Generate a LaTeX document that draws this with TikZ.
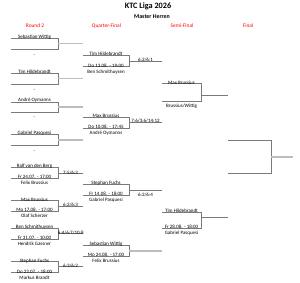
\documentclass[tikz,border=0pt]{standalone}
\usepackage{fontspec}
\setmainfont{Carlito}
\definecolor{hdr}{HTML}{FF0000}
\definecolor{lineg}{HTML}{7A7A7A}
\definecolor{lightg}{HTML}{BDBDBD}
\newcommand\bracketbox[4]{\draw[bl] (#1,#3) -- (#2,#3) -- (#2,#4) -- (#1,#4);}
\begin{document}
\begin{tikzpicture}[x=1pt,y=-1pt,
  txt/.style={inner sep=0pt, text height=0.66em, text depth=0pt, font=\fontsize{5}{6}\selectfont},
  hdrtxt/.style={txt, text=hdr, font=\fontsize{5.4}{6}\selectfont},
  bl/.style={draw=lineg, line width=0.8pt},
  ll/.style={draw=lightg, line width=1.3pt}]
\useasboundingbox (0,0) rectangle (300,283);
\fill[white] (0,0) rectangle (300,283);

% titles
\node[txt, font=\bfseries\fontsize{8.2}{9}\selectfont] (title) at (148,5) {KTC Liga 2026};
\node[txt, font=\bfseries\fontsize{5.9}{7}\selectfont] (sub) at (152,15.3) {Master Herren};
\node[hdrtxt] (h1) at (35,24) {Round 2};
\node[hdrtxt] (h2) at (106.5,24) {Quarter-Final};
\node[hdrtxt] (h3) at (182,24) {Semi-Final};
\node[hdrtxt] (h4) at (248,24) {Final};

% Round 2 boxes
\bracketbox{11}{58}{38.7}{49.3}
\bracketbox{11}{58}{73.3}{84}
\bracketbox{11}{58}{102}{112.3}
\bracketbox{11}{58}{134.7}{145.3}
\bracketbox{11}{58}{167.3}{178.5}
\bracketbox{11}{58}{200.7}{211.3}
\bracketbox{11}{58}{228}{239}
\bracketbox{11}{58}{261.7}{272.3}
\draw[ll] (58,43.7) -- (83,43.7);
\draw[ll] (58,78.7) -- (83,78.7);
\draw[ll] (58,107) -- (83,107);
\draw[ll] (58,140) -- (83,140);
\draw[bl] (58,173.5) -- (83,173.5);
\draw[bl] (58,206) -- (83,206);
\draw[bl] (58,233.3) -- (83,233.3);
\draw[bl] (58,266.7) -- (83,266.7);

\node[txt] (r1a) at (34.5,35) {Sebastian Wittig};
\node[txt] (r1b) at (34.5,53) {-};
\node[txt] (r2a) at (34.5,70.3) {Tim Hildebrandt};
\node[txt] (r2b) at (34.5,88) {-};
\node[txt] (r3a) at (34.5,98.7) {André Oymanns};
\node[txt] (r3b) at (34.5,115.7) {-};
\node[txt] (r4a) at (34.5,131.5) {Gabriel Pasquesi};
\node[txt] (r4b) at (34.5,149.7) {-};
\node[txt] (r5a) at (34.5,164.5) {Ralf van den Berg};
\node[txt] (r5d) at (34.5,175.5) {Fr 24.07. - 17:00};
\node[txt] (r5b) at (34.5,181.5) {Felix Brussius};
\node[txt] (r5s) at (70.5,171) {7:5/6:2};
\node[txt] (r6a) at (34.5,198) {Max Brussius};
\node[txt] (r6d) at (34.5,208.3) {Mo 17.08. - 17:00};
\node[txt] (r6b) at (34.5,214.7) {Olaf Scherzer};
\node[txt] (r6s) at (70.5,203.5) {6:2/6:3};
\node[txt] (r7a) at (34.5,225.3) {Ben Schmithuysen};
\node[txt] (r7d) at (34.5,236.5) {Fr 31.07. - 10:00};
\node[txt] (r7b) at (34.5,242.3) {Hendrik Gassner};
\node[txt] (r7s) at (70.8,231) {6:4/6:7/10:8};
\node[txt] (r8a) at (34.5,258.7) {Stephan Fuchs};
\node[txt] (r8d) at (34.5,269.8) {Do 23.07. - 18:00};
\node[txt] (r8b) at (34.5,276) {Markus Brandt};
\node[txt] (r8s) at (70.5,264.3) {6:3/6:2};

% Quarter-finals
\bracketbox{83}{129}{55}{66.7}
\bracketbox{83}{129}{117.3}{128.7}
\bracketbox{83}{129}{184.3}{195}
\bracketbox{83}{129}{245.5}{256}
\draw[bl] (129,61) -- (162,61);
\draw[bl] (129,122.3) -- (162,122.3);
\draw[bl] (129,190.3) -- (162,190.3);
\draw[ll] (129,251) -- (162,251);

\node[txt] (q1a) at (106,52.2) {Tim Hildebrandt};
\node[txt] (q1d) at (106,63.8) {Do 13.08. - 19:00};
\node[txt] (q1b) at (106,70.5) {Ben Schmithuysen};
\node[txt] (q1s) at (145.5,58.3) {6:2/6:1};
\node[txt] (q2a) at (106,114.7) {Max Brussius};
\node[txt] (q2d) at (106,125.6) {Do 10.08. - 17:45};
\node[txt] (q2b) at (106,131.7) {André Oymanns};
\node[txt] (q2s) at (145.5,119.6) {7:6/3:6/14:12};
\node[txt] (q3a) at (106,181.7) {Stephan Fuchs};
\node[txt] (q3d) at (106,192.4) {Fr 14.08. - 18:00};
\node[txt] (q3b) at (106,198.2) {Gabriel Pasquesi};
\node[txt] (q3s) at (145.5,193.2) {6:2/6:4};
\node[txt] (q4a) at (106,242.7) {Sebastian Wittig};
\node[txt] (q4d) at (106,253.3) {Mo 24.08. - 17:00};
\node[txt] (q4b) at (106,259.3) {Felix Brussius};

% Semi-finals
\bracketbox{162}{201}{83.5}{101.5}
\bracketbox{162}{201}{212.3}{228.3}
\draw[bl] (201,95) -- (228,95);
\draw[bl] (201,217.5) -- (228,217.5);
\node[txt] (s1a) at (181.5,80.8) {Max Brussius};
\node[txt] (s1b) at (181.5,104.3) {Brussius/Wittig};
\node[txt] (s2a) at (181.5,209.3) {Tim Hildebrandt};
\node[txt] (s2d) at (181.5,225.3) {Fr 28.08. - 18:00};
\node[txt] (s2b) at (181.5,231.5) {Gabriel Pasquesi};

% Final
\bracketbox{228}{271}{140.3}{173.3}
\draw[ll] (271,157) -- (293,157);
\end{tikzpicture}
\end{document}
